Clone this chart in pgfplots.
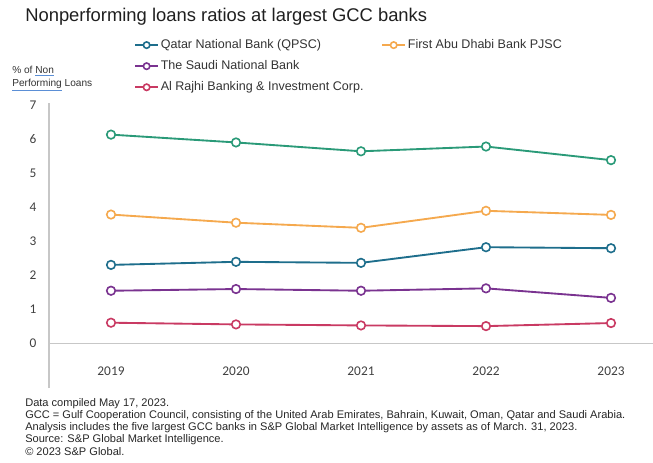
\documentclass[border=0pt]{standalone}
\usepackage{fontspec}
\setmainfont{Liberation Sans}
\newfontfamily\tickfont{Carlito}
\usepackage{pgfplots}
\pgfplotsset{compat=1.18}
\definecolor{cgreen}{HTML}{2A9A78}
\definecolor{corange}{HTML}{F5A94E}
\definecolor{cteal}{HTML}{1E6E8C}
\definecolor{cpurple}{HTML}{7A3390}
\definecolor{cred}{HTML}{C93A63}
\definecolor{cblue}{HTML}{5B8FD6}
\newcommand{\spell}[1]{\textcolor{cblue}{\underline{\textcolor{black!80}{#1}}}}
\begin{document}
\begin{tikzpicture}
\path[use as bounding box] (0,0) rectangle (489.75pt,-346.5pt);
\node[anchor=base west, inner sep=0, font=\fontsize{13.8}{16}\selectfont, text=black!88] at (18.75pt,-16pt) {Nonperforming loans ratios at largest GCC banks};
\node[anchor=base west, inner sep=0, align=left, font=\fontsize{7.6}{9.75}\selectfont, text=black!80] at (9pt,-64.9pt) {\% of \spell{Non}\\\spell{Performing} Loans};
\node[anchor=base west, inner sep=0, align=left, font=\fontsize{8.3}{9.1}\selectfont, text=black!85] at (18.75pt,-341.3pt) {Data compiled May 17, 2023.\\GCC = Gulf Cooperation Council, consisting of the United Arab Emirates, Bahrain, Kuwait, Oman, Qatar and Saudi Arabia.\\Analysis includes the five largest GCC banks in S\&P Global Market Intelligence by assets as of March. 31, 2023.\\Source: S\&P Global Market Intelligence.\\© 2023 S\&P Global.};
\begin{axis}[
  at={(36.75pt,-291pt)}, anchor=south west,
  scale only axis, width=453pt, height=213.5pt,
  xmin=2018.504, xmax=2023.336, ymin=-1.32, ymax=7.05,
  enlargelimits=false,
  axis x line=middle, axis y line=left,
  hide obscured x ticks=false, hide obscured y ticks=false,
  axis line style={draw=black!22, line width=0.9pt, -},
  xtick={2019,2020,2021,2022,2023}, ytick={0,1,2,3,4,5,6,7},
  major tick length=0pt,
  /pgf/number format/assume math mode=true,
  /pgf/number format/1000 sep={},
  x tick label style={font=\tickfont\fontsize{10}{12}\selectfont, text=black!75, yshift=-14pt},
  y tick label style={font=\tickfont\fontsize{10}{12}\selectfont, text=black!75, xshift=-6pt},
  every axis plot/.append style={line width=1.4pt, mark=*, mark size=3.2pt, mark options={fill=white, line width=1.2pt}},
  legend columns=2,
  legend cell align=left,
  legend image post style={mark size=2.4pt, line width=1.2pt},
  legend style={draw=none, fill=none, at={(rel axis cs:0.141,1.232)}, anchor=north west,
    font=\fontsize{9.4}{11}\selectfont, text=black!80, inner sep=0pt, row sep=4.5pt,
    /tikz/every even column/.append style={column sep=12pt}, nodes={inner sep=1.5pt}},
]
\addplot[color=cgreen, forget plot] coordinates {(2019,6.13) (2020,5.90) (2021,5.64) (2022,5.78) (2023,5.38)};
\addplot[color=cteal] coordinates {(2019,2.30) (2020,2.39) (2021,2.36) (2022,2.82) (2023,2.79)};
\addlegendentry{Qatar National Bank (QPSC)}
\addplot[color=corange] coordinates {(2019,3.78) (2020,3.54) (2021,3.39) (2022,3.89) (2023,3.77)};
\addlegendentry{First Abu Dhabi Bank PJSC}
\addplot[color=cpurple] coordinates {(2019,1.54) (2020,1.59) (2021,1.54) (2022,1.61) (2023,1.33)};
\addlegendentry{The Saudi National Bank}
\addlegendimage{empty legend}
\addlegendentry{}
\addplot[color=cred] coordinates {(2019,0.60) (2020,0.55) (2021,0.52) (2022,0.50) (2023,0.59)};
\addlegendentry{Al Rajhi Banking \& Investment Corp.}
\end{axis}
\end{tikzpicture}
\end{document}
